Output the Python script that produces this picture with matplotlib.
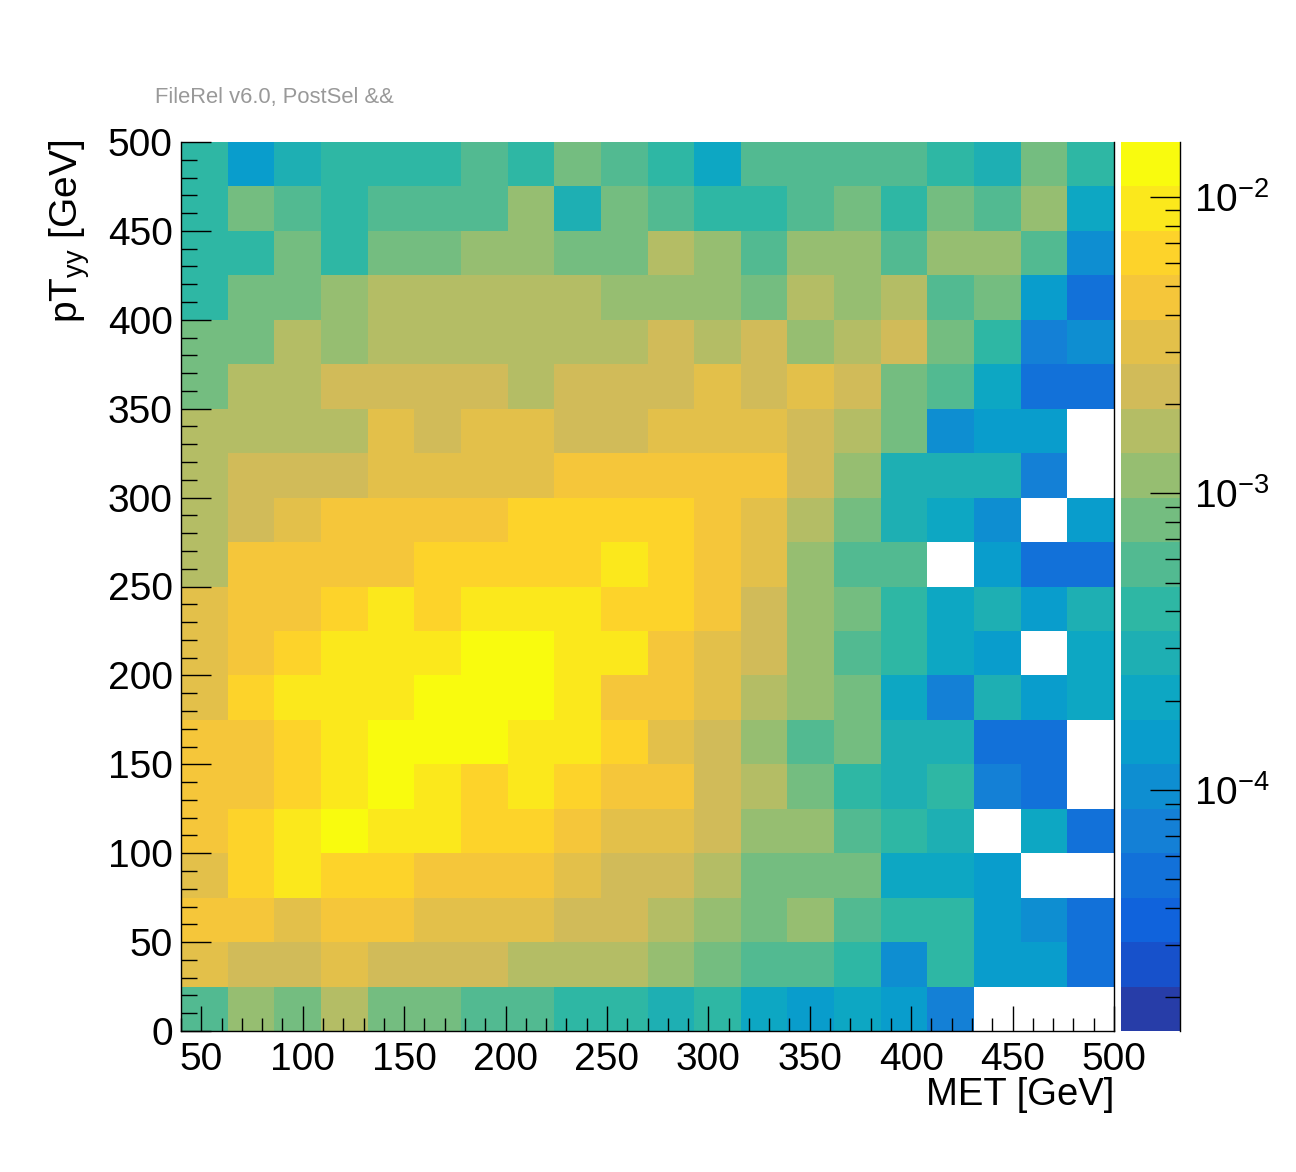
import matplotlib as mpl
mpl.use('Agg')

import numpy as np
import matplotlib.pyplot as plt
from matplotlib.colors import ListedColormap, LogNorm
from matplotlib.ticker import MultipleLocator, LogLocator, NullFormatter

plt.rcParams['font.family'] = 'Liberation Sans'
plt.rcParams['mathtext.fontset'] = 'custom'
plt.rcParams['mathtext.rm'] = 'Liberation Sans'
plt.rcParams['mathtext.it'] = 'Liberation Sans:italic'
plt.rcParams['mathtext.bf'] = 'Liberation Sans:bold'

# binning: MET 40-500 GeV (20 bins), pT_yy 0-500 GeV (20 bins)
met_edges = np.linspace(40, 500, 21)
pt_edges = np.linspace(0, 500, 21)

# bin contents per pT_yy row (bottom row first), 0 = empty bin
pt_000 = [5.8e-4, 1.15e-3, 8.2e-4, 1.6e-3, 8.2e-4, 8.2e-4, 5.8e-4, 5.8e-4, 4.1e-4, 4.1e-4,
          2.9e-4, 4.1e-4, 2.0e-4, 1.4e-4, 2.0e-4, 1.4e-4, 7.2e-5, 0, 0, 0]
pt_025 = [3.2e-3, 2.3e-3, 2.3e-3, 3.2e-3, 2.3e-3, 2.3e-3, 2.3e-3, 1.6e-3, 1.6e-3, 1.6e-3,
          1.15e-3, 8.2e-4, 5.8e-4, 5.8e-4, 4.1e-4, 1.0e-4, 4.1e-4, 1.4e-4, 1.4e-4, 5.1e-5]
pt_050 = [4.6e-3, 4.6e-3, 3.2e-3, 4.6e-3, 4.6e-3, 3.2e-3, 3.2e-3, 3.2e-3, 2.3e-3, 2.3e-3,
          1.6e-3, 1.15e-3, 8.2e-4, 1.15e-3, 5.8e-4, 4.1e-4, 4.1e-4, 1.4e-4, 1.0e-4, 5.1e-5]
pt_075 = [3.2e-3, 6.5e-3, 9.1e-3, 6.5e-3, 6.5e-3, 4.6e-3, 4.6e-3, 4.6e-3, 3.2e-3, 2.3e-3,
          2.3e-3, 1.6e-3, 8.2e-4, 8.2e-4, 8.2e-4, 2.0e-4, 2.0e-4, 1.4e-4, 0, 0]
pt_100 = [4.6e-3, 6.5e-3, 9.1e-3, 1.3e-2, 9.1e-3, 9.1e-3, 6.5e-3, 6.5e-3, 4.6e-3, 3.2e-3,
          3.2e-3, 2.3e-3, 1.15e-3, 1.15e-3, 5.8e-4, 4.1e-4, 2.9e-4, 0, 2.0e-4, 5.1e-5]
pt_125 = [4.6e-3, 4.6e-3, 6.5e-3, 9.1e-3, 1.3e-2, 9.1e-3, 6.5e-3, 9.1e-3, 6.5e-3, 4.6e-3,
          4.6e-3, 2.3e-3, 1.6e-3, 8.2e-4, 4.1e-4, 2.9e-4, 4.1e-4, 7.2e-5, 5.1e-5, 0]
pt_150 = [4.6e-3, 4.6e-3, 6.5e-3, 9.1e-3, 1.3e-2, 1.3e-2, 1.3e-2, 9.1e-3, 9.1e-3, 6.5e-3,
          3.2e-3, 2.3e-3, 1.15e-3, 5.8e-4, 8.2e-4, 2.9e-4, 2.9e-4, 5.1e-5, 5.1e-5, 0]
pt_175 = [3.2e-3, 6.5e-3, 9.1e-3, 9.1e-3, 9.1e-3, 1.3e-2, 1.3e-2, 1.3e-2, 9.1e-3, 4.6e-3,
          4.6e-3, 3.2e-3, 1.6e-3, 1.15e-3, 8.2e-4, 2.0e-4, 7.2e-5, 2.9e-4, 1.4e-4, 2.0e-4]
pt_200 = [3.2e-3, 4.6e-3, 6.5e-3, 9.1e-3, 9.1e-3, 9.1e-3, 1.3e-2, 1.3e-2, 9.1e-3, 9.1e-3,
          4.6e-3, 3.2e-3, 2.3e-3, 1.15e-3, 5.8e-4, 4.1e-4, 2.0e-4, 1.4e-4, 0, 2.0e-4]
pt_225 = [3.2e-3, 4.6e-3, 4.6e-3, 6.5e-3, 9.1e-3, 6.5e-3, 9.1e-3, 9.1e-3, 9.1e-3, 6.5e-3,
          6.5e-3, 4.6e-3, 2.3e-3, 1.15e-3, 8.2e-4, 4.1e-4, 2.0e-4, 2.9e-4, 1.4e-4, 2.9e-4]
pt_250 = [1.6e-3, 4.6e-3, 4.6e-3, 4.6e-3, 4.6e-3, 6.5e-3, 6.5e-3, 6.5e-3, 6.5e-3, 9.1e-3,
          6.5e-3, 4.6e-3, 3.2e-3, 1.15e-3, 5.8e-4, 5.8e-4, 0, 1.4e-4, 5.1e-5, 5.1e-5]
pt_275 = [1.6e-3, 2.3e-3, 3.2e-3, 4.6e-3, 4.6e-3, 4.6e-3, 4.6e-3, 6.5e-3, 6.5e-3, 6.5e-3,
          6.5e-3, 4.6e-3, 3.2e-3, 1.6e-3, 8.2e-4, 2.9e-4, 2.0e-4, 1.0e-4, 0, 1.4e-4]
pt_300 = [1.6e-3, 2.3e-3, 2.3e-3, 2.3e-3, 3.2e-3, 3.2e-3, 3.2e-3, 3.2e-3, 4.6e-3, 4.6e-3,
          4.6e-3, 4.6e-3, 4.6e-3, 2.3e-3, 1.15e-3, 2.9e-4, 2.9e-4, 2.9e-4, 7.2e-5, 0]
pt_325 = [1.6e-3, 1.6e-3, 1.6e-3, 1.6e-3, 3.2e-3, 2.3e-3, 3.2e-3, 3.2e-3, 2.3e-3, 2.3e-3,
          3.2e-3, 3.2e-3, 3.2e-3, 2.3e-3, 1.6e-3, 8.2e-4, 1.0e-4, 1.4e-4, 1.4e-4, 0]
pt_350 = [8.2e-4, 1.6e-3, 1.6e-3, 2.3e-3, 2.3e-3, 2.3e-3, 2.3e-3, 1.6e-3, 2.3e-3, 2.3e-3,
          2.3e-3, 3.2e-3, 2.3e-3, 3.2e-3, 2.3e-3, 8.2e-4, 5.8e-4, 2.0e-4, 5.1e-5, 5.1e-5]
pt_375 = [8.2e-4, 8.2e-4, 1.6e-3, 1.15e-3, 1.6e-3, 1.6e-3, 1.6e-3, 1.6e-3, 1.6e-3, 1.6e-3,
          2.3e-3, 1.6e-3, 2.3e-3, 1.15e-3, 1.6e-3, 2.3e-3, 8.2e-4, 4.1e-4, 7.2e-5, 1.0e-4]
pt_400 = [4.1e-4, 8.2e-4, 8.2e-4, 1.15e-3, 1.6e-3, 1.6e-3, 1.6e-3, 1.6e-3, 1.6e-3, 1.15e-3,
          1.15e-3, 1.15e-3, 8.2e-4, 1.6e-3, 1.15e-3, 1.6e-3, 5.8e-4, 8.2e-4, 1.4e-4, 5.1e-5]
pt_425 = [4.1e-4, 4.1e-4, 8.2e-4, 4.1e-4, 8.2e-4, 8.2e-4, 1.15e-3, 1.15e-3, 8.2e-4, 8.2e-4,
          1.6e-3, 1.15e-3, 5.8e-4, 1.15e-3, 1.15e-3, 5.8e-4, 1.15e-3, 1.15e-3, 5.8e-4, 1.0e-4]
pt_450 = [4.1e-4, 8.2e-4, 5.8e-4, 4.1e-4, 5.8e-4, 5.8e-4, 5.8e-4, 1.15e-3, 2.9e-4, 8.2e-4,
          5.8e-4, 4.1e-4, 4.1e-4, 5.8e-4, 8.2e-4, 4.1e-4, 8.2e-4, 5.8e-4, 1.15e-3, 2.0e-4]
pt_475 = [4.1e-4, 1.4e-4, 2.9e-4, 4.1e-4, 4.1e-4, 4.1e-4, 5.8e-4, 4.1e-4, 8.2e-4, 5.8e-4,
          4.1e-4, 2.0e-4, 5.8e-4, 5.8e-4, 5.8e-4, 5.8e-4, 4.1e-4, 2.9e-4, 8.2e-4, 4.1e-4]

rows = [pt_000, pt_025, pt_050, pt_075, pt_100, pt_125, pt_150, pt_175, pt_200, pt_225,
        pt_250, pt_275, pt_300, pt_325, pt_350, pt_375, pt_400, pt_425, pt_450, pt_475]
content = np.ma.masked_less_equal(np.array(rows), 0)

# ROOT kBird palette, 20 contour levels
stops = [0.0, 0.125, 0.25, 0.375, 0.5, 0.625, 0.75, 0.875, 1.0]
red = [0.2082, 0.0592, 0.0780, 0.0232, 0.1802, 0.5301, 0.8186, 0.9956, 0.9764]
green = [0.1664, 0.3599, 0.5041, 0.6419, 0.7178, 0.7492, 0.7328, 0.7862, 0.9832]
blue = [0.5293, 0.8684, 0.8385, 0.7914, 0.6425, 0.4662, 0.3499, 0.1968, 0.0539]
ncont = 20
frac = [int((i + 0.99) * 255 / ncont) / 254.0 for i in range(ncont)]
cols = [(np.interp(f, stops, red), np.interp(f, stops, green), np.interp(f, stops, blue)) for f in frac]
cmap = ListedColormap(cols)
norm = LogNorm(vmin=1.54e-5, vmax=1.53e-2)

fig = plt.figure(figsize=(12.96, 11.72), dpi=100)
ax = fig.add_axes([181 / 1296, 141 / 1172, 933 / 1296, 889 / 1172])
cax = fig.add_axes([1121 / 1296, 141 / 1172, 59 / 1296, 889 / 1172])

mesh = ax.pcolormesh(met_edges, pt_edges, content, cmap=cmap, norm=norm)
ax.set_xlim(40, 500)
ax.set_ylim(0, 500)

ax.spines['top'].set_visible(False)
for s in ['left', 'bottom', 'right']:
    ax.spines[s].set_linewidth(1.0)
    ax.spines[s].set_zorder(5)

ax.xaxis.set_major_locator(MultipleLocator(50))
ax.xaxis.set_minor_locator(MultipleLocator(10))
ax.yaxis.set_major_locator(MultipleLocator(50))
ax.yaxis.set_minor_locator(MultipleLocator(10))
ax.tick_params(axis='both', which='both', direction='in', top=False, right=False,
               labelsize=28, width=1.0)
ax.tick_params(axis='x', which='major', length=18, pad=8)
ax.tick_params(axis='x', which='minor', length=9.5)
ax.tick_params(axis='y', which='major', length=21.5, pad=6)
ax.tick_params(axis='y', which='minor', length=11.5)

cb = fig.colorbar(mesh, cax=cax)
cb.outline.set_visible(False)
cax.yaxis.set_ticks_position('right')
cax.yaxis.set_major_locator(LogLocator(base=10))
cax.yaxis.set_minor_locator(LogLocator(base=10, subs=np.arange(2, 10)))
cax.yaxis.set_minor_formatter(NullFormatter())
cax.tick_params(axis='y', which='both', direction='in', labelsize=28, width=1.0)
cax.tick_params(axis='y', which='major', length=21.5, pad=10)
cax.tick_params(axis='y', which='minor', length=10.8)
cax.plot([1, 1], [0, 1], transform=cax.transAxes, color='black', lw=1.0, clip_on=False)

fig.text(155 / 1296, 1 - 97 / 1172, 'FileRel v6.0, PostSel &&', color='#999999',
         fontsize=15.8, ha='left', va='center')
fig.text(1114 / 1296, 1 - 1095 / 1172, 'MET [GeV]', fontsize=27.5, ha='right', va='center')
fig.text(70 / 1296, 1 - 140 / 1172, r'pT$_{\mathrm{yy}}$ [GeV]', fontsize=28,
         rotation=90, ha='center', va='top')

fig.savefig('out.png', dpi=100, facecolor='white')
